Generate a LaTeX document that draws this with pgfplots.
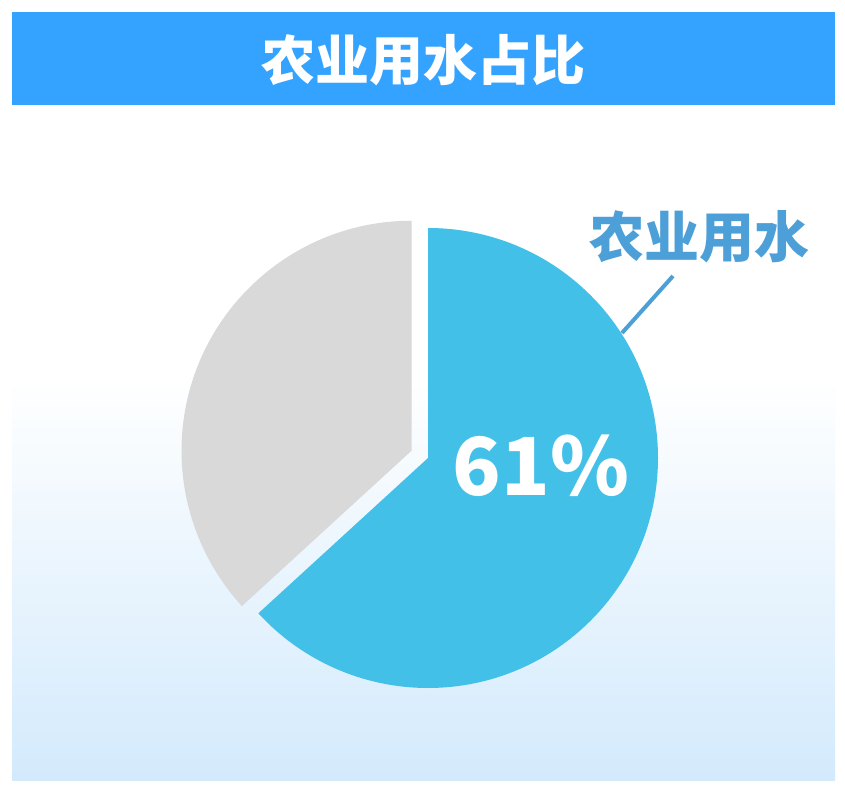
\documentclass[border=0pt]{standalone}
\usepackage{pgfplots}
\usepackage{pgfplotstable}
\pgfplotsset{compat=1.18}
\usepackage{fontspec}
\newfontfamily\cjk{Noto Sans CJK SC}

\definecolor{titlebar}{HTML}{33A3FF}
\definecolor{pieblue}{HTML}{42C0E8}
\definecolor{piegray}{HTML}{D9D9D9}
\definecolor{labelblue}{HTML}{4C9FD7}
\definecolor{bgbottom}{HTML}{D3EAFC}

% shares as drawn in the pie (percent)
\pgfplotstableread{
share
63.2
36.8
}\piedata

\begin{document}
\begin{tikzpicture}
\pgfplotstablegetelem{0}{share}\of\piedata \let\shareA\pgfplotsretval
\pgfplotstablegetelem{1}{share}\of\piedata \let\shareB\pgfplotsretval
\pgfmathsetmacro\angA{90-3.6*\shareA}
\pgfmathsetmacro\angB{90+3.6*\shareB}
\pgfmathsetmacro\bisB{90+1.8*\shareB}
\begin{axis}[
    x=1pt, y=1pt,
    xmin=0, xmax=845, ymin=0, ymax=787,
    hide axis, clip=false,
]
% background
\fill[white] (axis cs:0,0) rectangle (axis cs:845,787);
\shade[top color=white, bottom color=bgbottom] (axis cs:12,7) rectangle (axis cs:835,410);
% title bar
\fill[titlebar] (axis cs:12,682) rectangle (axis cs:835,775);
\node[text=white] at (axis cs:423,727) {\cjk\bfseries\fontsize{54}{60}\selectfont 农业用水占比};
% pie: agriculture slice
\fill[pieblue] (axis cs:428,329) -- ++(90:230pt)
    arc[start angle=90, end angle=\angA, radius=230pt] -- cycle;
% pie: other slice, pulled out along its bisector
\fill[piegray] (axis cs:428,329) ++(\bisB:18pt) -- ++(90:230pt)
    arc[start angle=90, end angle=\angB, radius=230pt] -- cycle;
% value and label
\node[text=white] at (axis cs:541,321) {\cjk\bfseries\fontsize{80}{88}\selectfont 61\%};
\draw[labelblue, line width=4pt] (axis cs:622,454) -- (axis cs:673,511);
\node[text=labelblue] at (axis cs:699,550) {\cjk\bfseries\fontsize{55}{60}\selectfont 农业用水};
\end{axis}
\end{tikzpicture}
\end{document}
